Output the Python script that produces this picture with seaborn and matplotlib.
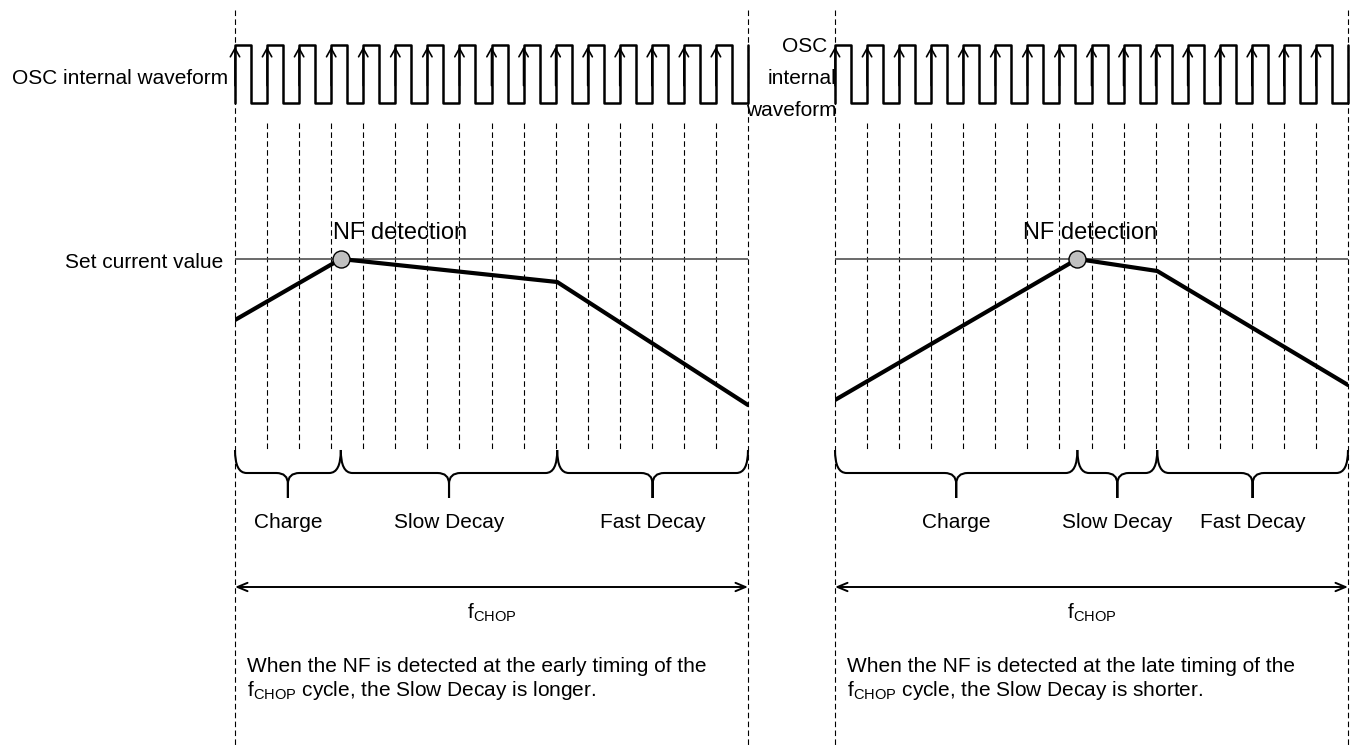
"""
NF detection timing vs. Slow Decay length (fCHOP cycle diagram)
"""
import matplotlib
matplotlib.use("Agg")
import matplotlib.pyplot as plt
from matplotlib.path import Path
from matplotlib.patches import PathPatch
import seaborn as sns

# ---- data ----
# OSC internal waveform: 16 clock periods per fCHOP cycle (step, post)
osc_time = [0, 0, 0.5, 1, 1.5, 2, 2.5, 3, 3.5, 4, 4.5, 5, 5.5, 6, 6.5, 7, 7.5,
            8, 8.5, 9, 9.5, 10, 10.5, 11, 11.5, 12, 12.5, 13, 13.5, 14, 14.5,
            15, 15.5, 16]
osc_level = [0, 1, 0, 1, 0, 1, 0, 1, 0, 1, 0, 1, 0, 1, 0, 1, 0,
             1, 0, 1, 0, 1, 0, 1, 0, 1, 0, 1, 0, 1, 0,
             1, 0, 1]
clock_rise = [0, 1, 2, 3, 4, 5, 6, 7, 8, 9, 10, 11, 12, 13, 14, 15]
cycle_end = 16

# coil current (relative to set current = 1.0), points: start, NF, decay switch, end
set_current = 1.0
left_t = [0, 3.3, 10.05, 16]
left_i = [0.695, 1.0, 0.885, 0.27]
right_t = [0, 7.56, 10.05, 16]
right_i = [0.295, 1.0, 0.94, 0.37]

phase_names = ["Charge", "Slow Decay", "Fast Decay"]

left_caption = ["When the NF is detected at the early timing of the",
                r"f$_\mathregular{CHOP}$ cycle, the Slow Decay is longer."]
right_caption = ["When the NF is detected at the late timing of the",
                 r"f$_\mathregular{CHOP}$ cycle, the Slow Decay is shorter."]

# ---- style ----
sns.set_theme(style="white")
plt.rcParams["font.family"] = ["Liberation Sans", "DejaVu Sans"]
plt.rcParams["mathtext.fontset"] = "custom"
plt.rcParams["mathtext.rm"] = "Liberation Sans"
plt.rcParams["text.color"] = "black"

W, H = 1350, 749
PANEL_W = 513
FS = 15
DASH = (0, (5, 3))
I_TOP = 1.68     # current value at the top of the current axes
I_BOT = 0.045    # current value at the bottom


def rect(x0, y_top, y_bot):
    return [x0 / W, 1 - y_bot / H, PANEL_W / W, (y_bot - y_top) / H]


def brace(ax, x0, x1, y_top=450, y_mid=473, y_tip=498, rx=0.36, ry=11):
    xc = (x0 + x1) / 2
    verts, codes = [], []
    for xe, s in ((x0, 1), (x1, -1)):
        verts += [(xe, y_top), (xe, y_mid), (xe + s * rx, y_mid),
                  (xc - s * rx, y_mid), (xc, y_mid), (xc, y_mid + ry),
                  (xc, y_tip)]
        codes += [Path.MOVETO, Path.CURVE3, Path.CURVE3,
                  Path.LINETO, Path.CURVE3, Path.CURVE3, Path.LINETO]
    ax.add_patch(PathPatch(Path(verts, codes), fill=False, lw=1.5,
                           edgecolor="black", clip_on=False))


def draw_panel(x0_px, cur_t, cur_i, caption, osc_labels, set_label, nf_dx):
    # frame axes: x in clock periods, y in layout units (top down)
    fr = fig.add_axes([x0_px / W, 0, PANEL_W / W, 1])
    fr.set_xlim(0, cycle_end)
    fr.set_ylim(H, 0)
    fr.set_axis_off()

    fr.vlines([0, cycle_end], 10, 745, colors="black", lw=0.8,
              linestyles=DASH, clip_on=False)
    fr.vlines(clock_rise[1:], 123, 450, colors="black", lw=0.8,
              linestyles=DASH, clip_on=False)

    # phase braces
    bounds = [cur_t[0], cur_t[1], cur_t[2], cur_t[3]]
    for k, name in enumerate(phase_names):
        a, b = bounds[k], bounds[k + 1]
        brace(fr, a, b)
        fr.text((a + b) / 2, 522, name, ha="center", va="center", fontsize=FS)

    # fCHOP arrow
    fr.annotate("", xy=(cycle_end, 587), xytext=(0, 587),
                arrowprops=dict(arrowstyle="<->,head_length=0.6,head_width=0.25",
                                lw=1.4, color="black", shrinkA=0, shrinkB=0))
    fr.text(cycle_end / 2, 613, r"f$_\mathregular{CHOP}$", ha="center",
            va="center", fontsize=FS)

    fr.text(0.37, 666, caption[0], ha="left", va="center", fontsize=FS)
    fr.text(0.37, 690, caption[1], ha="left", va="center", fontsize=FS)

    for (x, y, s) in osc_labels:
        fr.text(x, y, s, ha="right", va="center", fontsize=FS)
    if set_label:
        fr.text(-0.37, 262, "Set current value", ha="right", va="center",
                fontsize=FS)

    nf = cur_t[1]
    fr.text(nf + nf_dx, 233, "NF detection", ha="center", va="center",
            fontsize=17)

    # OSC waveform
    ax = fig.add_axes(rect(x0_px, 45, 103))
    ax.set_xlim(0, cycle_end)
    ax.set_ylim(0, 1)
    ax.set_axis_off()
    ax.patch.set_alpha(0)
    sns.lineplot(x=osc_time, y=osc_level, estimator=None, sort=False,
                 drawstyle="steps-post", color="black", lw=1.8, ax=ax,
                 clip_on=False)
    for t in clock_rise:
        ax.annotate("", xy=(t, 0.97), xytext=(t, 0.3),
                    arrowprops=dict(arrowstyle="->,head_length=0.5,head_width=0.28",
                                    lw=1.2, color="black", shrinkA=0, shrinkB=0))

    # current
    ax = fig.add_axes(rect(x0_px, 123, 450))
    ax.set_xlim(0, cycle_end)
    ax.set_ylim(I_BOT, I_TOP)
    ax.set_axis_off()
    ax.patch.set_alpha(0)
    ax.axhline(set_current, color="#505050", lw=1.2)
    sns.lineplot(x=cur_t, y=cur_i, estimator=None, sort=False,
                 color="black", lw=3, ax=ax)
    sns.scatterplot(x=[nf], y=[set_current], s=150, color="#c0c0c0",
                    edgecolor="black", linewidth=1, zorder=5, ax=ax)


fig = plt.figure(figsize=(W / 100, H / 100), dpi=100)

draw_panel(235, left_t, left_i, left_caption,
           [(-0.22, 79, "OSC internal waveform")], True, 1.85)
draw_panel(835, right_t, right_i, right_caption,
           [(-0.25, 47, "OSC"), (0.03, 78, "internal"), (0.06, 110, "waveform")],
           False, 0.4)

fig.savefig("out.png", dpi=100)
